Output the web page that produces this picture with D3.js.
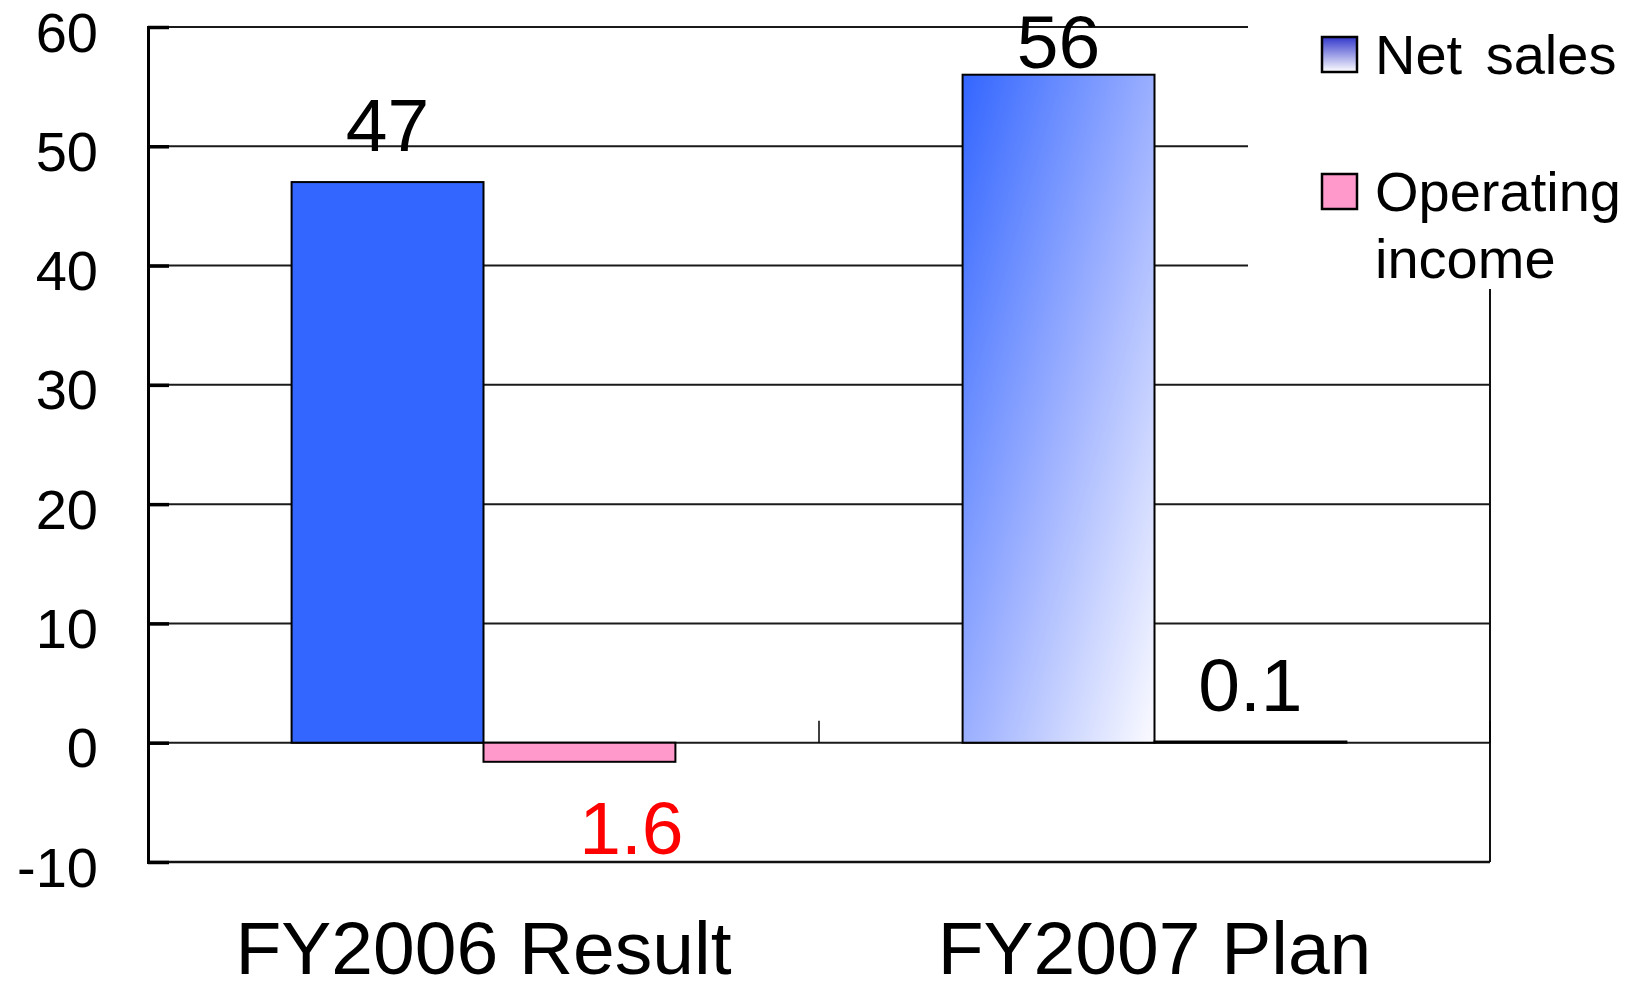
<!DOCTYPE html>
<html>
<head>
<meta charset="utf-8">
<script src="https://cdn.jsdelivr.net/npm/d3@7"></script>
<style>
  html, body { margin: 0; padding: 0; background: #fff; }
  svg { display: block; }
  text { font-family: "Liberation Sans", Arial, sans-serif; fill: #000; }
</style>
</head>
<body>
<svg id="chart" width="1637" height="989"></svg>
<script>
// Chart data
const categories = ["FY2006 Result", "FY2007 Plan"];
const seriesNames = ["Net sales", "Operating income"];
const netSales = [47, 56];
const operatingIncome = [-1.6, 0.1];
const yTicks = [-10, 0, 10, 20, 30, 40, 50, 60];

const svg = d3.select("#chart");
const W = 1637, H = 989;
const plot = { left: 148, right: 1490, top: 27, bottom: 862 };

const y = d3.scaleLinear().domain([-10, 60]).range([plot.bottom, plot.top]);
const x0 = d3.scaleBand().domain(categories).range([plot.left, plot.right]).padding(0);
const groupW = x0.bandwidth() * 0.572;
const x1 = d3.scaleBand().domain(seriesNames).range([0, groupW]).padding(0);

// Gradients
const defs = svg.append("defs");
const gBar = defs.append("linearGradient").attr("id", "barGrad")
  .attr("x1", 0).attr("y1", 0).attr("x2", 1).attr("y2", 1);
gBar.append("stop").attr("offset", "0%").attr("stop-color", "#3366ff");
gBar.append("stop").attr("offset", "55%").attr("stop-color", "#a4b6ff");
gBar.append("stop").attr("offset", "100%").attr("stop-color", "#fbfbff");
const gLeg = defs.append("linearGradient").attr("id", "legGrad")
  .attr("x1", 0).attr("y1", 0).attr("x2", 0).attr("y2", 1);
gLeg.append("stop").attr("offset", "0%").attr("stop-color", "#3338cc");
gLeg.append("stop").attr("offset", "100%").attr("stop-color", "#ffffff");

// Horizontal gridlines
svg.append("g").selectAll("line")
  .data(yTicks.filter(t => t >= 0))
  .join("line")
  .attr("x1", plot.left).attr("x2", plot.right)
  .attr("y1", d => y(d)).attr("y2", d => y(d))
  .attr("stroke", "#1a1a1a").attr("stroke-width", 2);

// Frame: bottom and right borders
svg.append("line")
  .attr("x1", plot.left).attr("x2", plot.right)
  .attr("y1", plot.bottom).attr("y2", plot.bottom)
  .attr("stroke", "#111").attr("stroke-width", 2.5);
svg.append("line")
  .attr("x1", plot.right).attr("x2", plot.right)
  .attr("y1", plot.top).attr("y2", plot.bottom)
  .attr("stroke", "#111").attr("stroke-width", 2);

// Y axis with inward ticks
const yAxis = d3.axisLeft(y).tickValues(yTicks).tickSize(-21).tickPadding(50)
  .tickFormat(d => String(d));
const ya = svg.append("g").attr("transform", `translate(${plot.left},0)`).call(yAxis);
ya.select(".domain").attr("stroke", "#000").attr("stroke-width", 3);
ya.selectAll(".tick line").attr("stroke", "#000").attr("stroke-width", 3.5);
ya.selectAll(".tick text")
  .attr("font-size", 56).attr("dy", "0.43em")
  .attr("font-family", "Liberation Sans, Arial, sans-serif").attr("fill", "#000");

// Category boundary ticks on the zero line
const bounds = [plot.left + x0.bandwidth(), plot.right];
svg.append("g").selectAll("line").data(bounds).join("line")
  .attr("x1", d => d).attr("x2", d => d)
  .attr("y1", y(0)).attr("y2", y(0) - 22)
  .attr("stroke", "#000").attr("stroke-width", 1.5);

// Bars
const rows = categories.map((c, i) => ({ cat: c, i, vals: [netSales[i], operatingIncome[i]] }));
const groups = svg.append("g").selectAll("g").data(rows).join("g")
  .attr("transform", d => `translate(${x0(d.cat) + (x0.bandwidth() - groupW) / 2},0)`);

groups.selectAll("rect")
  .data(d => d.vals.map((v, k) => ({ v, k, i: d.i })))
  .join("rect")
  .attr("x", d => x1(seriesNames[d.k]))
  .attr("width", x1.bandwidth())
  .attr("y", d => y(Math.max(0, d.v)))
  .attr("height", d => Math.abs(y(d.v) - y(0)))
  .attr("fill", d => d.k === 1 ? "#ff99cc" : (d.i === 1 ? "url(#barGrad)" : "#3366ff"))
  .attr("stroke", "#000").attr("stroke-width", 2);

// Value labels
groups.selectAll("text.val")
  .data(d => d.vals.map((v, k) => ({ v, k })))
  .join("text").attr("class", "val")
  .attr("x", d => x1(seriesNames[d.k]) + x1.bandwidth() / 2 + (d.v < 0 ? 52 : 0))
  .attr("y", d => d.v < 0 ? y(d.v) + 92 : Math.max(y(d.v) - 31, y(60) + 41))
  .attr("text-anchor", "middle")
  .attr("font-size", 75)
  .style("fill", d => d.v < 0 ? "#ff0000" : "#000")
  .text(d => String(Math.abs(d.v)));

// Category labels
svg.append("g").selectAll("text").data(categories).join("text")
  .attr("x", d => x0(d) + x0.bandwidth() / 2)
  .attr("y", 974)
  .attr("text-anchor", "middle")
  .attr("font-size", 75)
  .text(d => d);

// Legend (white panel covering the top-right corner of the plot)
svg.append("rect").attr("x", 1248).attr("y", 0).attr("width", W - 1248).attr("height", 289)
  .attr("fill", "#fff");
const legend = svg.append("g");
const legendRows = [
  { name: seriesNames[0], fill: "url(#legGrad)", y: 37, lines: ["Net sales"] },
  { name: seriesNames[1], fill: "#ff99cc", y: 174, lines: ["Operating", "income"] }
];
legendRows.forEach(r => {
  legend.append("rect").attr("x", 1322).attr("y", r.y).attr("width", 35).attr("height", 35)
    .attr("fill", r.fill).attr("stroke", "#000").attr("stroke-width", 2.5);
  const t = legend.append("text").attr("x", 1375).attr("y", r.y + 37)
    .attr("font-size", 56).attr("word-spacing", 8);
  r.lines.forEach((ln, j) => {
    t.append("tspan").attr("x", 1375).attr("dy", j === 0 ? 0 : 67).text(ln);
  });
});
</script>
</body>
</html>
